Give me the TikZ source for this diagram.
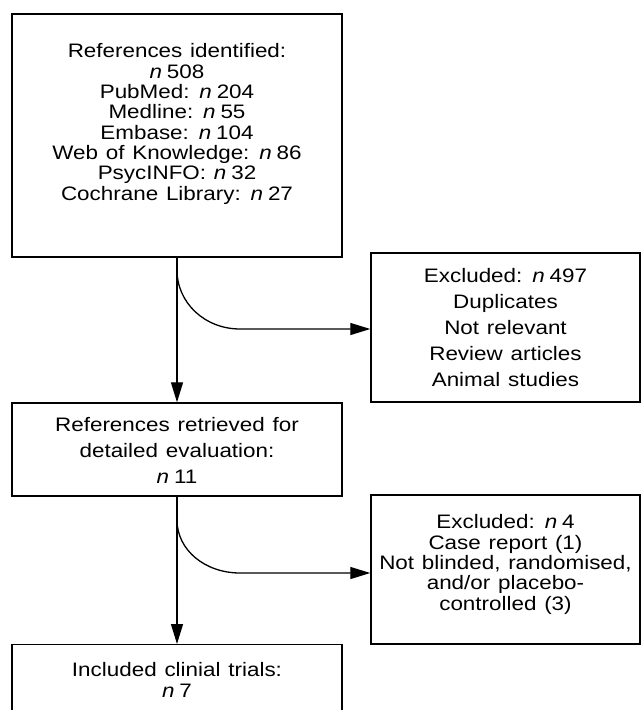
\documentclass[tikz,border=0pt]{standalone}
\usepackage{fontspec}
\setmainfont{Liberation Sans}[FakeStretch=1.15, WordSpace=1.25]
\usetikzlibrary{arrows.meta}
\newcommand{\nn}{\textit{n}\hspace{0.25em}}
\tikzset{
  box/.style={draw=black, line width=1.4pt, rectangle, inner sep=0pt},
  txt/.style={align=center, inner sep=0pt, font=\fontsize{19.5pt}{20.3pt}\selectfont},
  txtwide/.style={align=center, inner sep=0pt, font=\fontsize{19.5pt}{26pt}\selectfont},
  flow/.style={line width=1.3pt, -{Triangle[length=20pt,width=12pt]}},
  branch/.style={line width=1.3pt, -{Triangle[length=20pt,width=12pt]}}
}
\begin{document}
\begin{tikzpicture}[x=1pt,y=-1pt]
\useasboundingbox (0,0) rectangle (642,710);
% boxes
\node[box, minimum width=330pt, minimum height=243pt] (b1) at (177,135.5) {};
\node[box, minimum width=269pt, minimum height=149pt] (e1) at (505.5,327.5) {};
\node[box, minimum width=330pt, minimum height=93pt] (b2) at (177,449.5) {};
\node[box, minimum width=269pt, minimum height=149pt] (e2) at (505.5,569.5) {};
\node[box, minimum width=330pt, minimum height=90pt, anchor=north] (b3) at (177,644) {};
% texts
\node[txt] (t1) at (177,124) {References identified:\\ \nn 508\\ PubMed: \nn 204\\ Medline: \nn 55\\ Embase: \nn 104\\ Web of Knowledge: \nn 86\\ PsycINFO: \nn 32\\ Cochrane Library: \nn 27};
\node[txtwide] (t2) at (505.5,328) {Excluded: \nn 497\\ Duplicates\\ Not relevant\\ Review articles\\ Animal studies};
\node[txtwide] (t3) at (177,450) {References retrieved for\\ detailed evaluation:\\ \nn 11};
\node[txt] (t4) at (505.5,564.5) {Excluded: \nn 4\\ Case report (1)\\ Not blinded, randomised,\\ and/or placebo-\\ controlled (3)};
\node[txt] (t5) at (177,680) {Included clinial trials:\\ \nn 7};
% connectors
\coordinate (s1) at (177,270);
\coordinate (s2) at (177,520);
\draw[flow] (b1.south) -- (b2.north);
\draw[flow] (b2.south) -- (b3.north);
\draw[branch] (s1) .. controls (177,303) and (205,329) .. (240,329) -- (e1.west |- 0,329);
\draw[branch] (s2) .. controls (177,550) and (205,573) .. (240,573) -- (e2.west |- 0,573);
\end{tikzpicture}
\end{document}
